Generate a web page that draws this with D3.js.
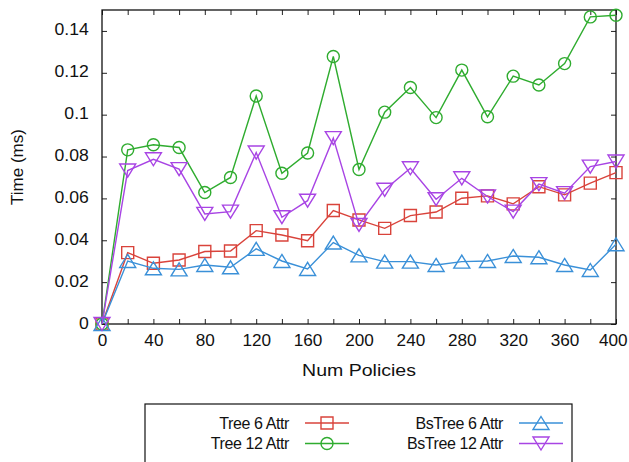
<!DOCTYPE html>
<html>
<head>
<meta charset="utf-8">
<script src="https://cdn.jsdelivr.net/npm/d3@7"></script>
<style>
  body { margin: 0; background: #fff; }
  svg { display: block; font-family: "Liberation Sans", Arial, sans-serif; }
</style>
</head>
<body>
<div id="chart"></div>
<script>
// data
var policies   = [0, 20, 40, 60, 80, 100, 120, 140, 160, 180, 200, 220, 240, 260, 280, 300, 320, 340, 360, 380, 400];
var tree6      = [0, 0.0341, 0.0290, 0.0306, 0.0346, 0.0349, 0.0446, 0.0425, 0.0398, 0.0542, 0.0497, 0.0457, 0.0518, 0.0535, 0.0601, 0.0612, 0.0574, 0.0656, 0.0617, 0.0673, 0.0723];
var tree12     = [0, 0.0832, 0.0856, 0.0843, 0.0628, 0.0700, 0.1089, 0.0720, 0.0817, 0.1278, 0.0738, 0.1012, 0.1130, 0.0986, 0.1213, 0.0990, 0.1184, 0.1142, 0.1244, 0.1467, 0.1475];
var bsTree6    = [0, 0.0301, 0.0266, 0.0261, 0.0282, 0.0271, 0.0359, 0.0301, 0.0263, 0.0389, 0.0328, 0.0298, 0.0298, 0.0282, 0.0298, 0.0301, 0.0325, 0.0319, 0.0282, 0.0258, 0.0381];
var bsTree12   = [0, 0.0733, 0.0787, 0.0740, 0.0526, 0.0537, 0.0819, 0.0510, 0.0589, 0.0888, 0.0473, 0.0641, 0.0744, 0.0596, 0.0696, 0.0609, 0.0537, 0.0668, 0.0625, 0.0752, 0.0776];
var seriesNames = ["Tree 6 Attr", "Tree 12 Attr", "BsTree 6 Attr", "BsTree 12 Attr"];
var xTicks = [0, 20, 40, 60, 80, 100, 120, 140, 160, 180, 200, 220, 240, 260, 280, 300, 320, 340, 360, 380, 400];
var yTicks = [0, 0.02, 0.04, 0.06, 0.08, 0.1, 0.12, 0.14];

var width = 629, height = 462;
// plot box edges (not "top": that name is taken by window.top)
var pLeft = 102, pRight = 616, pTop = 10, pBottom = 324;

// one entry per series: values, colour and marker shape
var series = [
    {name: seriesNames[0], values: tree6,    color: "#d9433b", shape: "square"},
    {name: seriesNames[1], values: tree12,   color: "#2fac2f", shape: "circle"},
    {name: seriesNames[2], values: bsTree6,  color: "#3a90d8", shape: "up"},
    {name: seriesNames[3], values: bsTree12, color: "#a844e4", shape: "down"}
];

var svg = d3.select("#chart").append("svg")
    .attr("width", width)
    .attr("height", height);

var x = d3.scaleLinear().domain([0, 400]).range([pLeft, pRight]);
var y = d3.scaleLinear().domain([0, 0.15]).range([pBottom, pTop]);

// marker path generator
function marker(shape) {
    if (shape === "square") return "M-6,-6H6V6H-6Z";
    if (shape === "circle") return "M6,0A6,6 0 1,1 -6,0A6,6 0 1,1 6,0Z";
    if (shape === "up") return "M0,-6.5L8,6.5L-8,6.5Z";
    return "M0,6.5L8,-6.5L-8,-6.5Z";
}

// axes, ticks pointing inward and mirrored
var sx = 1.1; // reference text is a bit wide

var xAxis = svg.append("g")
    .attr("transform", "translate(0," + pBottom + ")")
    .call(d3.axisBottom(x).tickValues(xTicks).tickSizeInner(-5).tickSizeOuter(0)
        .tickFormat(function (d) { return d % 40 === 0 ? d : ""; }));
xAxis.selectAll("text")
    .attr("y", 11)
    .attr("dy", "0.71em")
    .attr("x", function (d) { return d === 400 ? -3 : 0; }) // keep last label inside the page
    .attr("transform", "scale(" + sx + ",1)")
    .style("font-size", "15.6px")
    .attr("fill", "#111");

svg.append("g")
    .attr("transform", "translate(0," + pTop + ")")
    .call(d3.axisTop(x).tickValues(xTicks).tickSizeInner(-5).tickSizeOuter(0).tickFormat(""));

var yAxis = svg.append("g")
    .attr("transform", "translate(" + pLeft + ",0)")
    .call(d3.axisLeft(y).tickValues(yTicks).tickSizeInner(-5).tickSizeOuter(0)
        .tickFormat(d3.format("~g")));
yAxis.selectAll("text")
    .attr("x", -12)
    .attr("dy", "0.25em")
    .attr("transform", "scale(" + sx + ",1)")
    .style("font-size", "16px")
    .attr("fill", "#111");

svg.append("g")
    .attr("transform", "translate(" + pRight + ",0)")
    .call(d3.axisRight(y).tickValues(yTicks).tickSizeInner(-5).tickSizeOuter(0).tickFormat(""));

svg.selectAll(".domain").remove();
svg.selectAll(".tick line").attr("stroke", "#222");

// frame
svg.append("rect")
    .attr("x", pLeft).attr("y", pTop)
    .attr("width", pRight - pLeft).attr("height", pBottom - pTop)
    .attr("fill", "none").attr("stroke", "#111").attr("stroke-width", 1.3);

// axis titles
svg.append("text")
    .attr("transform", "translate(" + ((pLeft + pRight) / 2) + ",376) scale(1.15,1)")
    .attr("text-anchor", "middle")
    .style("font-size", "17px")
    .attr("fill", "#111")
    .text("Num Policies");

svg.append("text")
    .attr("transform", "translate(23," + ((pTop + pBottom) / 2) + ") rotate(-90)")
    .attr("text-anchor", "middle")
    .style("font-size", "17px")
    .attr("fill", "#111")
    .text("Time (ms)");

// lines and markers
var line = d3.line()
    .x(function (d, i) { return x(policies[i]); })
    .y(function (d) { return y(d); });

series.forEach(function (s) {
    svg.append("path")
        .datum(s.values)
        .attr("d", line)
        .attr("fill", "none")
        .attr("stroke", s.color)
        .attr("stroke-width", 1.4);

    svg.append("g").selectAll("path")
        .data(s.values)
        .enter()
        .append("path")
        .attr("transform", function (d, i) { return "translate(" + x(policies[i]) + "," + y(d) + ")"; })
        .attr("d", marker(s.shape))
        .attr("fill", "none")
        .attr("stroke", s.color)
        .attr("stroke-width", 1.4);
});

// legend
var legend = svg.append("g");
legend.append("rect")
    .attr("x", 145).attr("y", 404)
    .attr("width", 427).attr("height", 80)
    .attr("fill", "none").attr("stroke", "#111").attr("stroke-width", 1.2);

var legendPos = [
    {tx: 289, y: 423}, {tx: 289, y: 443.5},
    {tx: 503, y: 423}, {tx: 503, y: 443.5}
];

series.forEach(function (s, i) {
    var p = legendPos[i];
    var g = legend.append("g");
    g.append("text")
        .attr("x", p.tx).attr("y", p.y)
        .attr("dy", "0.35em")
        .attr("text-anchor", "end")
        .style("font-size", "16px")
        .style("letter-spacing", "-0.4px")
        .attr("fill", "#111")
        .text(s.name);
    g.append("line")
        .attr("x1", p.tx + 16).attr("x2", p.tx + 60)
        .attr("y1", p.y).attr("y2", p.y)
        .attr("stroke", s.color).attr("stroke-width", 1.4);
    g.append("path")
        .attr("transform", "translate(" + (p.tx + 38) + "," + p.y + ")")
        .attr("d", marker(s.shape))
        .attr("fill", "none")
        .attr("stroke", s.color)
        .attr("stroke-width", 1.4);
});
</script>
</body>
</html>
